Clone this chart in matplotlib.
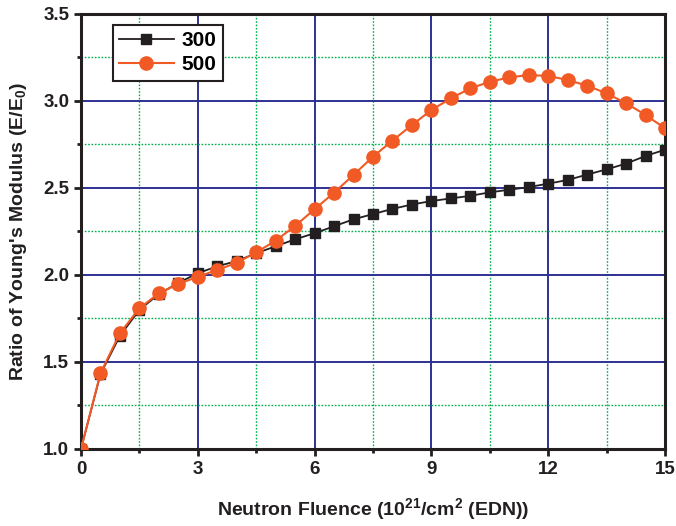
import numpy as np
import matplotlib
matplotlib.use('Agg')
import matplotlib.pyplot as plt
from matplotlib.ticker import MultipleLocator

plt.rcParams['font.family'] = ['Liberation Sans', 'DejaVu Sans']
plt.rcParams['font.weight'] = 'bold'
plt.rcParams['mathtext.fontset'] = 'custom'
plt.rcParams['mathtext.rm'] = 'Liberation Sans:bold'
plt.rcParams['mathtext.default'] = 'rm'

# Neutron fluence (10^21 / cm^2)
fluence = [0, 0.5, 1, 1.5, 2, 2.5, 3, 3.5, 4, 4.5, 5, 5.5, 6, 6.5, 7, 7.5,
           8, 8.5, 9, 9.5, 10, 10.5, 11, 11.5, 12, 12.5, 13, 13.5, 14, 14.5, 15]

# ratio of Young's modulus E/E0
ratio_300 = [1.00, 1.43, 1.65, 1.80, 1.89, 1.955, 2.01, 2.05, 2.08, 2.125, 2.165,
             2.205, 2.24, 2.28, 2.32, 2.35, 2.38, 2.405, 2.425, 2.44, 2.455, 2.475,
             2.49, 2.505, 2.525, 2.546, 2.577, 2.607, 2.64, 2.684, 2.72]
ratio_500 = [1.00, 1.435, 1.665, 1.809, 1.895, 1.948, 1.99, 2.029, 2.07, 2.13, 2.197,
             2.282, 2.378, 2.473, 2.575, 2.68, 2.772, 2.862, 2.948, 3.015, 3.073, 3.11,
             3.136, 3.149, 3.144, 3.121, 3.088, 3.044, 2.987, 2.92, 2.843]

fig = plt.figure(figsize=(6.76, 5.26), dpi=100)
ax = fig.add_axes([0.1198, 0.1464, 0.8639, 0.827])

ax.plot(fluence, ratio_300, color='#231f20', marker='s', markersize=7.5, lw=1.3,
        label='300', clip_on=True, zorder=3)
ax.plot(fluence, ratio_500, color='#f15a24', marker='o', markersize=9.5, lw=1.5,
        label='500', clip_on=True, zorder=4)

ax.set_xlim(0, 15)
ax.set_ylim(1.0, 3.5)
ax.xaxis.set_major_locator(MultipleLocator(3))
ax.xaxis.set_minor_locator(MultipleLocator(1.5))
ax.yaxis.set_major_locator(MultipleLocator(0.5))
ax.yaxis.set_minor_locator(MultipleLocator(0.25))
ax.yaxis.set_major_formatter(matplotlib.ticker.FormatStrFormatter('%.1f'))

ax.grid(which='major', color='#2e3192', lw=1.4, ls='-')
ax.grid(which='minor', color='#00b04f', lw=1.0, ls=(0, (1.2, 1.2)))
ax.set_axisbelow(True)

for s in ax.spines.values():
    s.set_linewidth(2.2)
    s.set_color('#231f20')

ax.tick_params(which='major', direction='out', length=5, width=2, labelsize=13.5,
               color='#231f20', labelcolor='#231f20')
ax.tick_params(which='minor', direction='out', length=3, width=2, color='#231f20')

ax.set_xlabel('Neutron Fluence (10$^{21}$/cm$^{2}$ (EDN))', fontsize=14,
              fontweight='bold', labelpad=13, color='#231f20')
ax.set_ylabel("Ratio of Young's Modulus (E/E$_{0}$)", fontsize=14,
              fontweight='bold', labelpad=10, color='#231f20')

leg = ax.legend(loc='upper left', bbox_to_anchor=(0.055, 0.975), borderaxespad=0,
                fontsize=15, fancybox=False, framealpha=1, edgecolor='#231f20',
                handlelength=2.6, borderpad=0.3, labelspacing=0.25,
                handletextpad=0.4)
leg.get_frame().set_linewidth(1.5)

fig.savefig('out.png', dpi=100)
